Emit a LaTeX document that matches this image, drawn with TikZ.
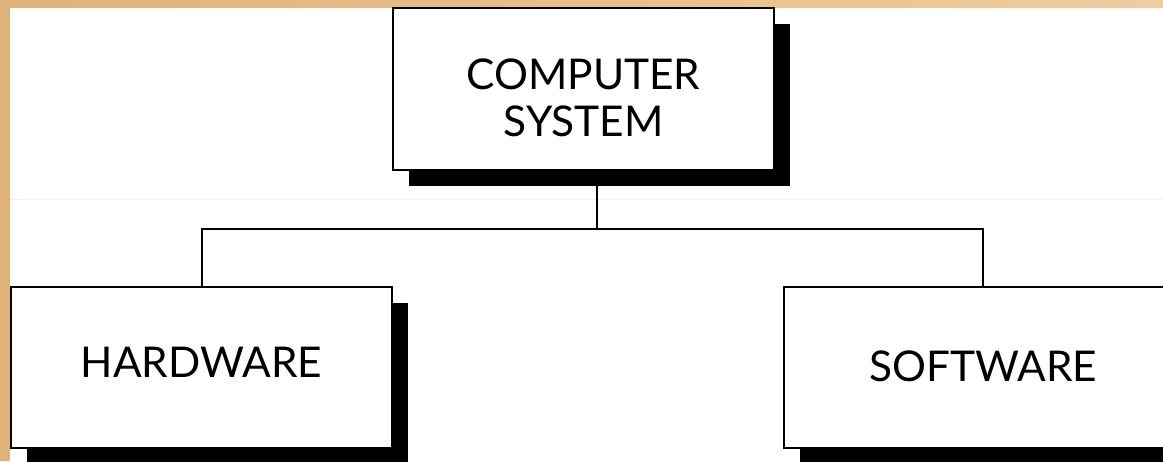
\documentclass[tikz,border=0pt]{standalone}
\usepackage{fontspec}
\setmainfont{Lato}
\usetikzlibrary{positioning,shadows}
\definecolor{Frame}{HTML}{DFB27A}
\definecolor{FrameLight}{HTML}{F0CCA0}
\definecolor{Seam}{HTML}{F4EEE7}
\tikzset{
  block/.style={draw=black,fill=white,line width=1.5pt,align=center,inner sep=0pt,
    font=\fontsize{31.8}{35.25}\selectfont,
    drop shadow={shadow xshift=12pt,shadow yshift=-12pt,opacity=1,fill=black}},
  link/.style={draw=black,line width=1.5pt}
}

\begin{document}
\begin{tikzpicture}[x=0.75pt,y=-0.75pt]
  \clip (0,0) rectangle (1163,461);
  \fill[white] (0,0) rectangle (1163,461);
  \fill[Frame] (0,0) rectangle (10,461);
  \shade[left color=Frame,right color=FrameLight] (0,0) rectangle (1163,7);
  \draw[Seam,line width=.75pt] (10,199) -- (1163,199);
  \node[block,minimum width=285.75pt,minimum height=121.5pt,text height=70.5pt,text depth=0pt] (sys) at (583.5,89) {COMPUTER\\SYSTEM};
  \node[block,minimum width=285.75pt,minimum height=120.75pt,text depth=7.5pt] (hw) at (201.5,367.5) {HARDWARE};
  \node[block,minimum width=298.5pt,minimum height=120.75pt,text depth=2.25pt] (sw) at (983,367.5) {SOFTWARE};
  \coordinate (bus) at (597,229);
  \draw[link] (sys.south -| bus) -- (bus);
  \draw[link] (hw.north) |- (bus) -| (sw.north);
\end{tikzpicture}
\end{document}
